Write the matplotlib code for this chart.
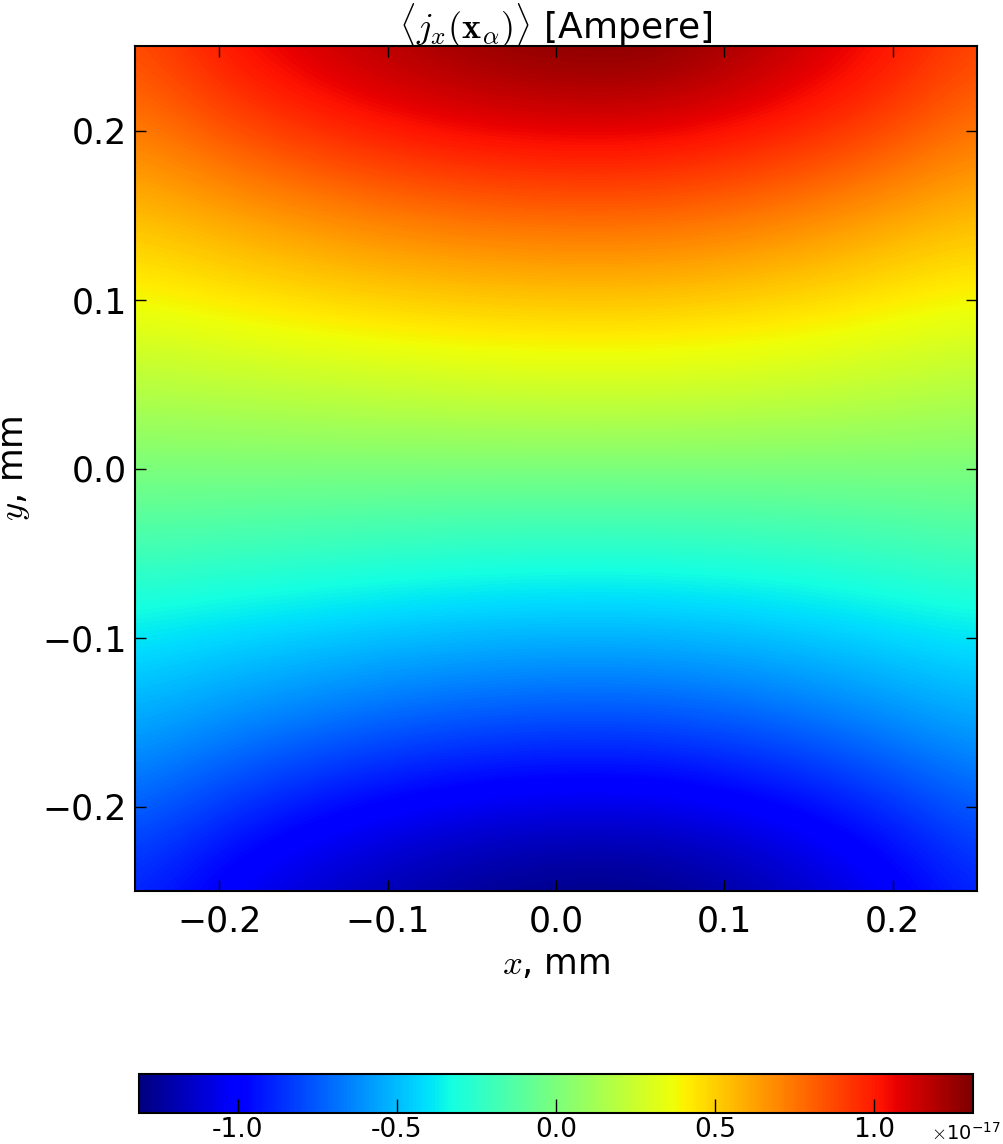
import numpy as np
import matplotlib
matplotlib.use("Agg")
import matplotlib.pyplot as plt
from matplotlib.ticker import FuncFormatter

plt.rcParams['mathtext.fontset'] = 'cm'
plt.rcParams['font.family'] = ['DejaVu Sans']

# grid positions (mm)
x_mm = [-0.25, -0.20, -0.15, -0.10, -0.05, 0.00, 0.05, 0.10, 0.15, 0.20, 0.25]
y_mm = [-0.25, -0.20, -0.15, -0.10, -0.05, 0.00, 0.05, 0.10, 0.15, 0.20, 0.25]

# <j_x> values in units of 1e-17 A, rows from y=-0.25 (bottom) to y=0.25 (top)
row_m025 = [-0.89, -1.03, -1.13, -1.21, -1.27, -1.31, -1.31, -1.25, -1.15, -1.04, -0.89]
row_m020 = [-0.72, -0.84, -0.94, -1.01, -1.06, -1.08, -1.08, -1.04, -0.97, -0.87, -0.74]
row_m015 = [-0.54, -0.61, -0.67, -0.73, -0.77, -0.79, -0.79, -0.76, -0.70, -0.62, -0.55]
row_m010 = [-0.39, -0.43, -0.46, -0.49, -0.51, -0.52, -0.52, -0.50, -0.47, -0.43, -0.39]
row_m005 = [-0.19, -0.21, -0.23, -0.25, -0.27, -0.28, -0.28, -0.27, -0.25, -0.22, -0.19]
row_p000 = [0.00, 0.00, 0.00, 0.00, 0.00, 0.00, 0.00, 0.00, 0.00, 0.00, 0.00]
row_p005 = [0.19, 0.21, 0.23, 0.25, 0.27, 0.28, 0.28, 0.27, 0.25, 0.22, 0.19]
row_p010 = [0.38, 0.42, 0.46, 0.49, 0.51, 0.52, 0.52, 0.50, 0.47, 0.42, 0.38]
row_p015 = [0.54, 0.61, 0.67, 0.73, 0.77, 0.79, 0.79, 0.76, 0.70, 0.62, 0.55]
row_p020 = [0.72, 0.84, 0.94, 1.01, 1.06, 1.08, 1.08, 1.04, 0.97, 0.87, 0.74]
row_p025 = [0.86, 1.02, 1.12, 1.20, 1.26, 1.30, 1.31, 1.24, 1.14, 1.03, 0.88]

scale = 1e-17
vmin, vmax = -1.31, 1.31

xticks = [-0.2, -0.1, 0.0, 0.1, 0.2]
yticks = [-0.2, -0.1, 0.0, 0.1, 0.2]
cbar_ticks = [-1.0, -0.5, 0.0, 0.5, 1.0]

Z = np.array([row_m025, row_m020, row_m015, row_m010, row_m005, row_p000,
              row_p005, row_p010, row_p015, row_p020, row_p025]) * scale

W, H = 1004, 1144
fig = plt.figure(figsize=(W / 100, H / 100), dpi=100)
ax = fig.add_axes([135 / W, 1 - 891 / H, (977 - 135) / W, (891 - 46) / H])

dx = x_mm[1] - x_mm[0]
dy = y_mm[1] - y_mm[0]
im = ax.imshow(Z, origin='lower', cmap='jet', interpolation='bicubic',
               extent=[x_mm[0] - dx / 2, x_mm[-1] + dx / 2, y_mm[0] - dy / 2, y_mm[-1] + dy / 2],
               vmin=vmin * scale, vmax=vmax * scale, aspect='auto')
ax.set_xlim(-0.25, 0.25)
ax.set_ylim(-0.25, 0.25)
ax.set_xticks(xticks)
ax.set_yticks(yticks)
ax.xaxis.set_major_formatter(FuncFormatter(lambda v, p: ('%.1f' % v).replace('-', '\u2212')))
ax.yaxis.set_major_formatter(FuncFormatter(lambda v, p: ('%.1f' % v).replace('-', '\u2212')))
ax.tick_params(direction='in', length=8, width=1, top=True, right=True, labelsize=25)
ax.tick_params(axis='x', pad=10)
ax.tick_params(axis='y', pad=6)
for s in ax.spines.values():
    s.set_linewidth(1.5)
ax.set_title(r'$\langle j_x(\mathbf{x}_\alpha)\rangle$ [Ampere]', fontsize=26, pad=5)
ax.set_xlabel(r'$x$, mm', fontsize=25, labelpad=6)
ax.set_ylabel(r'$y$, mm', fontsize=25, labelpad=7)

cax = fig.add_axes([139 / W, 1 - 1113 / H, (973 - 139) / W, (1113 - 1074) / H])
cb = fig.colorbar(im, cax=cax, orientation='horizontal',
                  ticks=[t * scale for t in cbar_ticks])
cb.formatter = FuncFormatter(lambda v, p: '%.1f' % (v / scale))
cb.update_ticks()
cax.tick_params(direction='in', length=10, width=1, labelsize=19, pad=3)
cb.outline.set_linewidth(1.5)
fig.text(0.997, 1 - 1133 / H, r'$\times\mathdefault{10^{-17}}$', fontsize=14,
         ha='right', va='center')

fig.savefig('out.png', dpi=100)
